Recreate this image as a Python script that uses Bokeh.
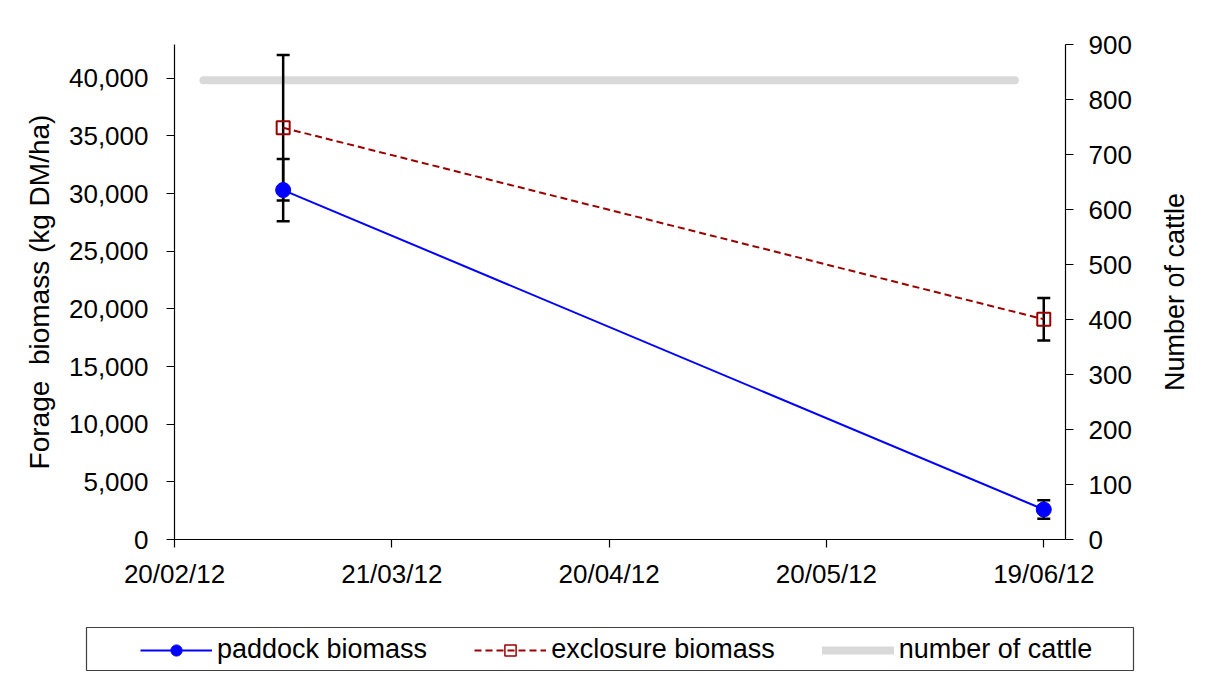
from datetime import datetime
from bokeh.plotting import figure
from bokeh.layouts import row
from bokeh.models import (Range1d, LinearAxis, FixedTicker, NumeralTickFormatter,
                          DatetimeTickFormatter, ColumnDataSource, Whisker, TeeHead,
                          Legend, LegendItem)
from bokeh.embed import file_html
from bokeh.resources import INLINE

# ---- data ----
sample_dates = ["2012-03-06", "2012-06-19"]
paddock_biomass = [30300, 2600]
paddock_err = [2700, 800]
exclosure_biomass = [35700, 19100]
exclosure_err = [6300, 1850]
cattle_dates = ["2012-02-24", "2012-06-15"]
cattle_count = [835, 835]
x_tick_labels = ["20/02/12", "21/03/12", "20/04/12", "20/05/12", "19/06/12"]
left_ticks = [0, 5000, 10000, 15000, 20000, 25000, 30000, 35000, 40000]
right_ticks = [0, 100, 200, 300, 400, 500, 600, 700, 800, 900]
series_names = ["paddock biomass", "exclosure biomass", "number of cattle"]

FONT = "Liberation Sans"
FS = "26px"
PAD_BLUE = "#0000FF"
EXC_RED = "#990000"
CATTLE_GREY = "#D9D9D9"

def d(s):
    return datetime.strptime(s, "%Y-%m-%d")

xs = [d(s) for s in sample_dates]
cx = [d(s) for s in cattle_dates]
tick_dt = [datetime.strptime(s, "%d/%m/%y") for s in x_tick_labels]
tick_ms = [(t - datetime(1970, 1, 1)).total_seconds() * 1000 for t in tick_dt]

W = 1223
PW = 1135   # main plot width; a narrow strip to its right carries the right-hand title
MH = 600    # main plot height; legend strip below
p = figure(width=PW, height=MH, output_backend="svg", toolbar_location=None,
           x_axis_type="datetime",
           x_range=Range1d(datetime(2012, 2, 20), datetime(2012, 6, 22)),
           y_range=Range1d(0, 42920),
           min_border_left=174, min_border_right=PW - 1065,
           min_border_top=44, min_border_bottom=MH - 539)
p.extra_y_ranges = {"cattle": Range1d(0, 900)}
p.outline_line_color = None
p.xgrid.visible = False
p.ygrid.visible = False
p.background_fill_color = "white"
p.border_fill_color = "white"

# cattle line (behind)
p.line(cx, cattle_count, y_range_name="cattle", line_color=CATTLE_GREY,
       line_width=8, line_cap="round", level="underlay")

# error bars
src_p = ColumnDataSource(dict(x=xs, upper=[v + e for v, e in zip(paddock_biomass, paddock_err)],
                              lower=[v - e for v, e in zip(paddock_biomass, paddock_err)]))
src_e = ColumnDataSource(dict(x=xs, upper=[v + e for v, e in zip(exclosure_biomass, exclosure_err)],
                              lower=[v - e for v, e in zip(exclosure_biomass, exclosure_err)]))
for src in (src_e, src_p):
    w = Whisker(base="x", upper="upper", lower="lower", source=src,
                line_color="black", line_width=2.5, level="underlay",
                upper_head=TeeHead(size=13, line_color="black", line_width=2.5),
                lower_head=TeeHead(size=13, line_color="black", line_width=2.5))
    p.add_layout(w)

p.line(xs, paddock_biomass, line_color=PAD_BLUE, line_width=2)
p.scatter(xs, paddock_biomass, marker="circle", size=15,
          fill_color=PAD_BLUE, line_color=PAD_BLUE)
p.line(xs, exclosure_biomass, line_color=EXC_RED, line_width=2, line_dash="7 4")
p.scatter(xs, exclosure_biomass, marker="square", size=13,
          fill_color=None, line_color=EXC_RED, line_width=2)

# axes styling
def style_axis(ax, title_size=FS):
    ax.axis_line_color = "black"
    ax.axis_line_width = 1.2
    ax.major_tick_line_color = "black"
    ax.major_tick_line_width = 1.2
    ax.minor_tick_line_color = None
    ax.major_tick_in = 0
    ax.major_tick_out = 8
    ax.major_label_text_font = FONT
    ax.major_label_text_font_size = FS
    ax.major_label_text_color = "black"
    ax.axis_label_text_font = FONT
    ax.axis_label_text_font_size = title_size
    ax.axis_label_text_font_style = "normal"
    ax.axis_label_text_color = "black"

xa = p.xaxis[0]
style_axis(xa)
xa.ticker = FixedTicker(ticks=tick_ms)
fmt = "%d/%m/%y"
xa.formatter = DatetimeTickFormatter(microseconds=fmt, milliseconds=fmt, seconds=fmt,
                                     minsec=fmt, minutes=fmt, hourmin=fmt, hours=fmt,
                                     days=fmt, months=fmt, years=fmt)
xa.major_label_standoff = 11

ya = p.yaxis[0]
style_axis(ya, "28px")
ya.ticker = FixedTicker(ticks=left_ticks)
ya.formatter = NumeralTickFormatter(format="0,0")
ya.axis_label = "Forage\u00a0 biomass (kg DM/ha)"
ya.major_label_standoff = 18
ya.axis_label_standoff = 11

ra = LinearAxis(y_range_name="cattle")
style_axis(ra)
ra.ticker = FixedTicker(ticks=right_ticks)
ra.major_label_standoff = 15
p.add_layout(ra, "right")

# ---- narrow strip carrying the right-hand axis title (reads bottom-to-top) ----
RW = W - PW
r = figure(width=RW, height=MH, output_backend="svg", toolbar_location=None,
           x_range=Range1d(0, 1), y_range=Range1d(0, 900),
           x_axis_type=None, y_axis_type=None,
           min_border_left=64, min_border_right=0,
           min_border_top=44, min_border_bottom=MH - 539)
r.grid.visible = False
r.outline_line_color = None
r.background_fill_color = "white"
r.border_fill_color = "white"
rt = LinearAxis(axis_label="Number of cattle", ticker=FixedTicker(ticks=[]))
style_axis(rt, "27px")
rt.axis_line_color = None
rt.major_tick_out = 0
rt.major_label_standoff = 0
rt.axis_label_standoff = 10
r.add_layout(rt, "left")

top = row(p, r, spacing=0)

# ---- legend strip (its frame outline is the legend box) ----
LH = 73
q = figure(width=W, height=LH, output_backend="svg", toolbar_location=None,
           x_range=Range1d(0, 1), y_range=Range1d(0, 1),
           x_axis_type=None, y_axis_type=None,
           min_border_left=86, min_border_right=W - 1133,
           min_border_top=27, min_border_bottom=3)
q.grid.visible = False
q.outline_line_color = "#404040"
q.outline_line_width = 1.2
q.background_fill_color = "white"
q.border_fill_color = "white"

# legend glyph sources: the real series, lying outside this strip's view
g1l = q.line(xs, paddock_biomass, line_color=PAD_BLUE, line_width=2)
g1m = q.scatter(xs, paddock_biomass, marker="circle", size=15,
                fill_color=PAD_BLUE, line_color=PAD_BLUE)
g2l = q.line(xs, exclosure_biomass, line_color=EXC_RED, line_width=2, line_dash="7 4")
g2m = q.scatter(xs, exclosure_biomass, marker="square", size=11, fill_color=None,
                line_color=EXC_RED, line_width=1.5)
g3l = q.line(cx, cattle_count, line_color=CATTLE_GREY, line_width=8, line_cap="round")

legend = Legend(items=[
    LegendItem(label=series_names[0], renderers=[g1l, g1m]),
    LegendItem(label=series_names[1], renderers=[g2l, g2m]),
    LegendItem(label=series_names[2], renderers=[g3l]),
], orientation="horizontal", location=(54, 5))
legend.label_text_font = FONT
legend.label_text_font_size = "27px"
legend.label_text_color = "black"
legend.glyph_width = 72
legend.glyph_height = 28
legend.label_standoff = 5
legend.spacing = 47
legend.padding = 0
legend.margin = 0
legend.border_line_color = None
legend.background_fill_alpha = 0
q.add_layout(legend)

open("out.html", "w").write(file_html([top, q], INLINE))
